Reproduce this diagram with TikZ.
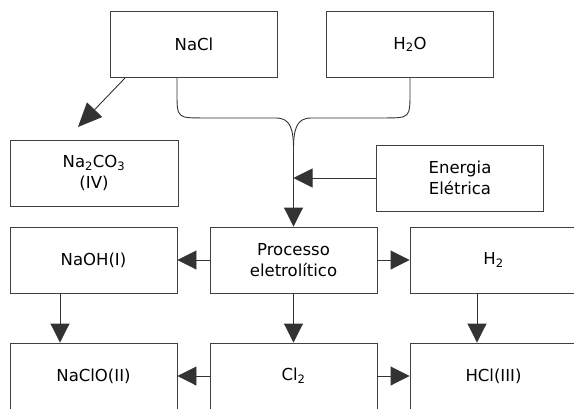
\documentclass[tikz,border=0pt]{standalone}
\usepackage{fontspec}
\setmainfont{DejaVu Sans}
\usetikzlibrary{arrows.meta,calc}
\begin{document}
\begin{tikzpicture}[x=1pt,y=-1pt,
  box/.style={draw=black!75,line width=0.9pt,minimum width=167pt,minimum height=66pt,inner sep=0pt,align=center,font=\fontsize{16.5}{21}\selectfont},
  arr/.style={draw=black!80,line width=0.9pt,-{Triangle[length=19pt,width=19pt]}},
  bigarr/.style={draw=black!80,line width=0.9pt,-{Triangle[length=24pt,width=21pt]}},
  link/.style={draw=black!80,line width=0.9pt}]
\useasboundingbox (0,0) rectangle (574,408);
\clip (0,0) rectangle (574,408);
\fill[white] (0,0) rectangle (574,408);
\node[box] (nacl) at (194,44.5) {NaCl};
\node[box] (h2o) at (410,44.5) {H\textsubscript{2}O};
\node[box,minimum width=168pt] (na2co3) at (94,173) {Na\textsubscript{2}CO\textsubscript{3}\\(IV)};
\node[box] (en) at (460,178) {Energia\\Elétrica};
\node[box] (naoh) at (93.5,260) {NaOH(I)};
\node[box] (proc) at (293.5,260) {Processo\\eletrolítico};
\node[box] (h2) at (493.5,260) {H\textsubscript{2}};
\node[box] (naclo) at (93.5,376) {NaClO(II)};
\node[box] (cl2) at (293.5,376) {Cl\textsubscript{2}};
\node[box] (hcl) at (493.5,376) {HCl(III)};
\coordinate (m) at (293.5,150);
\coordinate (d) at (78,127);
% brace joining NaCl and H2O
\draw[link] ([xshift=-17pt]nacl.south) -- ++(0,14) .. controls ++(0,26) .. ++(26,26) -- (276,118) .. controls (291,118) and (293.5,130) .. (m);
\draw[link] ([xshift=0pt]h2o.south) -- ++(0,14) .. controls ++(0,26) .. ++(-26,26) -- (311,118) .. controls (296,118) and (293.5,130) .. (m);
\draw[arr] (m) -- (proc.north);
\draw[arr] (en.west) -- (en.west -| m);
\draw[bigarr] ([xshift=15pt]nacl.south west) -- (d);
\draw[arr] (proc.west) -- (naoh.east);
\draw[arr] (proc.east) -- (h2.west);
\draw[arr] ([xshift=-33.5pt]naoh.south) -- ([xshift=-33.5pt]naclo.north);
\draw[arr] (proc.south) -- (cl2.north);
\draw[arr] ([xshift=-16.5pt]h2.south) -- ([xshift=-16.5pt]hcl.north);
\draw[arr] (cl2.west) -- (naclo.east);
\draw[arr] (cl2.east) -- (hcl.west);
\end{tikzpicture}
\end{document}
